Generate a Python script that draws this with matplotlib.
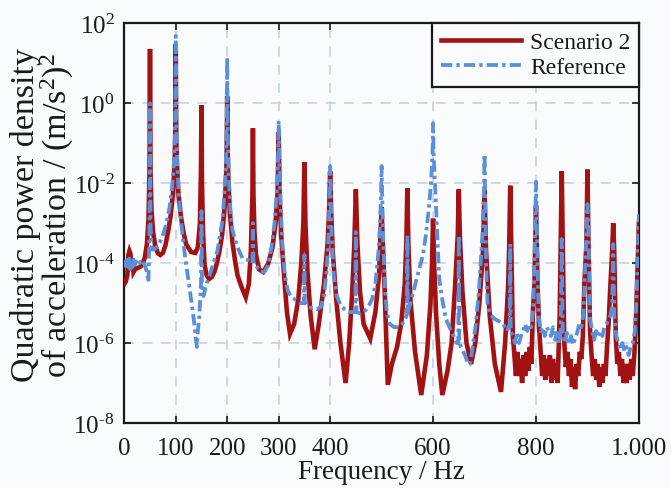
import matplotlib
matplotlib.use("Agg")
import matplotlib.pyplot as plt

plt.rcParams['font.family'] = ['Liberation Serif', 'DejaVu Serif']
plt.rcParams['mathtext.fontset'] = 'custom'
plt.rcParams['mathtext.rm'] = 'Liberation Serif'
plt.rcParams['mathtext.it'] = 'Liberation Serif:italic'
plt.rcParams['mathtext.bf'] = 'Liberation Serif:bold'

# ---------------- data: (frequency Hz, PSD) ----------------
s2_points = [
    (0, 3.0e-5), (3, 3.5e-5), (6, 5e-5), (8, 1.6e-4), (10, 2.0e-4), (12, 1.7e-4), (14, 7e-5),
    (16, 1.3e-4), (18, 6e-5), (21, 7e-5), (25, 7.5e-5), (30, 8e-5), (35, 9e-5), (40, 1.4e-4),
    (44, 3e-4), (47, 1.2e-3), (49, 2e-2), (50, 23), (51, 2e-2), (53, 2e-3), (56, 6e-4),
    (60, 2.8e-4), (65, 1.8e-4), (70, 1.6e-4), (75, 1.8e-4), (80, 2.8e-4), (85, 6e-4),
    (90, 1.5e-3), (95, 6e-3), (98, 4e-2), (99, 0.15), (100, 30), (101, 0.15), (102, 4e-2),
    (105, 6e-3), (110, 1.5e-3), (115, 6e-4), (120, 3e-4), (130, 1.9e-4), (138, 1.8e-4),
    (143, 2.5e-4), (147, 1e-3), (149, 2e-2), (150, 0.9), (151, 1e-2), (153, 6e-4), (156, 9e-5),
    (160, 5e-5), (165, 4e-5), (170, 4.5e-5), (175, 6e-5), (180, 1e-4), (185, 2e-4), (190, 5e-4),
    (195, 2.5e-3), (198, 1.5e-2), (199, 6e-2), (200, 1.5), (201, 6e-2), (202, 1.5e-2),
    (205, 2e-3), (210, 3.5e-4), (215, 1.2e-4), (220, 5e-5), (228, 2.5e-5), (236, 1.4e-5),
    (242, 3e-5), (246, 2e-4), (249, 5e-3), (250, 0.24), (251, 5e-3), (253, 6e-4), (256, 1.6e-4),
    (262, 7e-5), (270, 6e-5), (280, 1e-4), (288, 2.5e-4), (294, 1e-3), (298, 6e-3), (299, 3e-2),
    (300, 0.19), (301, 3e-2), (302, 4e-3), (305, 5e-4), (310, 6e-5), (316, 6e-6), (322, 1.7e-6),
    (330, 3e-6), (338, 1.2e-5), (344, 1e-4), (348, 1e-3), (350, 3.4e-2), (352, 1e-3),
    (356, 6e-5), (362, 5e-6), (370, 7e-7), (378, 3e-6), (388, 3e-5), (395, 3e-4), (398, 2e-3),
    (400, 2e-2), (402, 2e-3), (405, 2e-4), (412, 1.2e-5), (420, 1e-6), (430, 1e-7), (437, 1e-6),
    (443, 2e-5), (447, 3e-4), (450, 7e-3), (453, 3e-4), (458, 2e-5), (465, 3e-6), (478, 1.3e-6),
    (488, 6e-6), (495, 5e-5), (498, 5e-4), (500, 2.5e-3), (502, 4e-4), (506, 2e-5), (512, 9e-8),
    (520, 3e-7), (530, 8e-7), (538, 3e-6), (545, 3e-5), (548, 3e-4), (550, 7.6e-3), (552, 3e-4),
    (556, 1.2e-5), (565, 6e-7), (577, 5e-8), (588, 5e-7), (595, 1e-5), (598, 1e-4),
    (600, 1.3e-3), (602, 1e-4), (606, 5e-6), (612, 3e-7), (618, 5e-8), (628, 2e-7), (636, 1e-6),
    (643, 3e-5), (648, 5e-4), (650, 7e-3), (652, 5e-4), (657, 2e-5), (665, 1e-6), (674, 3e-7),
    (682, 1e-6), (690, 1e-5), (697, 2e-4), (700, 6.8e-3), (703, 2e-4), (710, 5e-6), (720, 3e-7),
    (732, 6e-8), (740, 1e-6), (746, 3e-5), (748, 3e-4), (750, 8.7e-3), (752, 3e-4),
    (755, 1.5e-6), (758, 5e-7), (761, 1.5e-7), (764, 6e-7), (767, 1.5e-7), (770, 4e-7),
    (773, 1e-7), (776, 5e-7), (779, 1.5e-7), (782, 6e-7), (785, 2e-7), (788, 8e-7), (791, 3e-7),
    (794, 6e-6), (797, 3e-5), (800, 2.8e-3), (803, 3e-5), (806, 2.5e-6), (809, 6e-7),
    (812, 1.5e-7), (815, 5e-7), (818, 1.2e-7), (821, 4e-7), (824, 1.5e-7), (827, 5e-7),
    (830, 1e-7), (833, 4e-7), (836, 1.2e-7), (839, 3e-7), (842, 1e-7), (846, 5e-6), (848, 3e-4),
    (850, 2e-2), (852, 3e-4), (855, 1e-6), (858, 2.5e-7), (861, 6e-7), (864, 1.5e-7),
    (867, 4e-7), (870, 8e-8), (873, 2.5e-7), (876, 7e-8), (879, 3e-7), (882, 1.5e-7),
    (885, 6e-7), (888, 4e-7), (891, 1.5e-6), (894, 3e-5), (898, 3e-4), (900, 2.2e-2),
    (902, 3e-4), (905, 2e-6), (908, 5e-7), (911, 1.5e-7), (914, 4e-7), (917, 1.2e-7),
    (920, 3e-7), (923, 8e-8), (926, 2.5e-7), (929, 1e-7), (932, 3e-7), (935, 1.5e-7),
    (938, 8e-7), (941, 3e-6), (944, 2e-5), (948, 2e-4), (950, 1e-3), (952, 2e-4), (955, 1.5e-6),
    (958, 3e-7), (961, 6e-7), (964, 1.5e-7), (967, 4e-7), (970, 1e-7), (973, 3e-7), (976, 1e-7),
    (979, 3e-7), (982, 1.2e-7), (985, 4e-7), (988, 1.5e-7), (991, 5e-7), (994, 3e-6),
    (997, 5e-5), (999, 3e-4), (1000, 1e-3),
]

ref_points = [
    (0, 8e-5), (2, 1.1e-4), (4, 7e-5), (6, 1.2e-4), (8, 8e-5), (10, 1.3e-4), (12, 7e-5),
    (14, 1.1e-4), (16, 8e-5), (18, 1.2e-4), (20, 9e-5), (23, 1.1e-4), (26, 9e-5), (29, 1e-4),
    (32, 1.1e-4), (35, 9e-5), (38, 1e-4), (41, 8e-5), (44, 6e-5), (47, 3.3e-5), (49, 1e-3),
    (50, 1.0), (51, 1e-3), (53, 2.2e-4), (58, 2.2e-4), (64, 2.6e-4), (70, 3.5e-4), (76, 5.5e-4),
    (82, 1e-3), (88, 2.5e-3), (93, 8e-3), (97, 4e-2), (99, 0.4), (100, 49), (101, 0.4),
    (103, 3e-2), (106, 5e-3), (110, 1.2e-3), (115, 3e-4), (120, 1e-4), (125, 3.5e-5),
    (130, 1.2e-5), (135, 4e-6), (139, 1.3e-6), (141, 8e-7), (143, 2e-6), (146, 5e-6),
    (149, 3e-5), (150, 2e-3), (151, 3e-5), (154, 1.5e-5), (158, 2.5e-5), (163, 4e-5),
    (168, 6e-5), (175, 1.2e-4), (181, 2e-4), (186, 5e-4), (190, 1e-3), (194, 4e-3), (197, 2e-2),
    (199, 0.2), (200, 14), (201, 0.2), (203, 1.5e-2), (206, 2.5e-3), (210, 7e-4), (215, 4e-4),
    (222, 2.2e-4), (230, 1.3e-4), (240, 1.2e-4), (246, 1.1e-4), (249, 1e-4), (250, 1e-3),
    (251, 1e-4), (258, 8e-5), (265, 6e-5), (272, 6e-5), (280, 9e-5), (286, 2.5e-4), (292, 1e-3),
    (296, 5e-3), (299, 0.05), (300, 0.36), (301, 0.05), (304, 3e-3), (307, 3e-4), (312, 5e-5),
    (318, 2e-5), (325, 1.4e-5), (333, 1.2e-5), (342, 1e-5), (349, 1e-5), (350, 1.6e-4),
    (351, 1e-5), (358, 8e-6), (366, 7.5e-6), (374, 7e-6), (382, 8e-6), (388, 1.5e-5),
    (393, 6e-5), (397, 5e-4), (399, 5e-3), (400, 2.7e-2), (401, 5e-3), (403, 5e-4), (407, 5e-5),
    (413, 1.5e-5), (420, 9e-6), (428, 7e-6), (436, 6e-6), (444, 6e-6), (449, 6e-6), (450, 6e-4),
    (451, 6e-6), (458, 5.5e-6), (466, 6e-6), (474, 8e-6), (482, 1.3e-5), (488, 3e-5),
    (494, 2e-4), (497, 1e-3), (499, 6e-3), (500, 2.7e-2), (501, 6e-3), (503, 5e-4), (506, 3e-5),
    (510, 6e-6), (516, 3e-6), (524, 2.5e-6), (532, 2.5e-6), (540, 3e-6), (546, 4e-6),
    (549, 5e-6), (550, 5e-4), (551, 6e-6), (556, 1e-5), (562, 2e-5), (568, 4e-5), (574, 8e-5),
    (580, 1.5e-4), (586, 5e-4), (592, 2.5e-3), (596, 1e-2), (599, 0.06), (600, 0.32),
    (601, 0.06), (604, 8e-3), (608, 5e-4), (612, 4e-5), (618, 1.2e-5), (625, 4e-6),
    (632, 2.5e-6), (640, 1.5e-6), (646, 1e-6), (649, 1e-6), (650, 5e-4), (651, 1e-6),
    (656, 7e-7), (662, 5e-7), (668, 3e-7), (672, 3e-7), (677, 8e-7), (683, 3e-6), (689, 2e-5),
    (694, 2e-4), (697, 1e-3), (699, 8e-3), (700, 5.4e-2), (701, 8e-3), (703, 1e-4), (706, 8e-6),
    (712, 5e-6), (720, 4e-6), (728, 3.5e-6), (736, 3e-6), (744, 2e-6), (749, 3e-6), (750, 3e-4),
    (751, 2e-6), (755, 1.5e-6), (759, 1e-6), (763, 1.8e-6), (767, 1e-6), (771, 1.5e-6),
    (775, 2e-6), (779, 3e-6), (783, 2e-6), (787, 3e-6), (791, 2.5e-6), (795, 8e-6), (798, 5e-4),
    (800, 1.1e-2), (802, 5e-4), (805, 5e-6), (809, 2e-6), (813, 2.5e-6), (817, 1.5e-6),
    (821, 2.5e-6), (825, 2e-6), (829, 1.5e-6), (833, 2.5e-6), (837, 1.2e-6), (841, 1.8e-6),
    (845, 1e-6), (848, 2e-6), (850, 4e-4), (852, 2e-6), (856, 1e-6), (860, 1.8e-6), (864, 1e-6),
    (868, 1.5e-6), (872, 9e-7), (876, 1.3e-6), (880, 1.8e-6), (884, 3e-6), (888, 2.5e-6),
    (892, 5e-6), (895, 5e-5), (898, 5e-4), (900, 3e-3), (902, 5e-4), (905, 4e-6), (909, 2e-6),
    (913, 1.2e-6), (917, 2e-6), (921, 1.5e-6), (925, 2e-6), (929, 1.5e-6), (933, 2.5e-6),
    (937, 3e-6), (941, 4e-6), (945, 5e-6), (948, 8e-6), (950, 3e-4), (952, 5e-6), (956, 1.5e-6),
    (960, 1e-6), (964, 7e-7), (968, 1e-6), (972, 6e-7), (976, 8e-7), (980, 5e-7), (984, 8e-7),
    (988, 1e-6), (992, 2e-6), (995, 1e-5), (998, 2e-4), (1000, 1.7e-3),
]

freq_s2 = [p[0] for p in s2_points]
psd_s2 = [p[1] for p in s2_points]
freq_ref = [p[0] for p in ref_points]
psd_ref = [p[1] for p in ref_points]

xtick_vals = [0, 100, 200, 300, 400, 600, 800, 1000]
xtick_labels = ['0', '100', '200', '300', '400', '600', '800', '1.000']
ytick_exps = [-8, -6, -4, -2, 0, 2]
series_names = ['Scenario 2', 'Reference']

# ---------------- figure ----------------
bg = '#fafbfd'
fig = plt.figure(figsize=(6.71, 4.89), dpi=100, facecolor=bg)
ax = fig.add_axes([0.1852, 0.133, 0.767, 0.817], facecolor=bg)

red = '#a31212'
blue = '#5b8fd9'
ax.plot(freq_s2, psd_s2, color=red, lw=3.3, solid_joinstyle='miter',
        label=series_names[0], zorder=3)
ax.plot(freq_ref, psd_ref, color=blue, lw=2.7, linestyle=(0, (3.0, 1.1, 0.9, 1.1)),
        label=series_names[1], zorder=4)

ax.set_yscale('log')
ax.set_xlim(0, 1000)
ax.set_ylim(1e-8, 1e2)

def exp_label(e):
    s = str(e).replace('-', '\u2010')
    return r'$10^{%s}$' % s

ax.set_xticks(xtick_vals)
ax.set_xticklabels(xtick_labels)
ax.set_yticks([10.0 ** e for e in ytick_exps])
ax.set_yticklabels([exp_label(e) for e in ytick_exps])
ax.minorticks_off()
ax.tick_params(axis='both', which='major', direction='in', top=True, right=True,
               length=5, width=1.2, labelsize=18, colors='#1a1a1a')
ax.tick_params(axis='y', pad=7)
ax.tick_params(axis='x', pad=10)

for s in ax.spines.values():
    s.set_linewidth(1.6)
    s.set_color('#1a1a1a')

ax.grid(True, which='major', color='#c5d3e0', linestyle=(0, (6, 5)), linewidth=1.2)
ax.set_axisbelow(True)

ax.set_xlabel('Frequency / Hz', fontsize=19.5, labelpad=0, color='#1a1a1a')
ax.set_ylabel('Quadratic power density\nof acceleration / (m/s$^2$)$^2$',
              fontsize=24.5, color='#1a1a1a', linespacing=0.95)
ax.yaxis.set_label_coords(-0.093, 0.523)

leg = ax.legend(loc='upper right', fontsize=17, frameon=True, fancybox=False,
                borderaxespad=0, handlelength=3.4, handletextpad=0.4,
                borderpad=0.35, labelspacing=0.15, framealpha=1)
leg.get_frame().set_edgecolor('#1a1a1a')
leg.get_frame().set_linewidth(1.6)
leg.get_frame().set_facecolor(bg)
for t in leg.get_texts():
    t.set_color('#1a1a1a')

fig.savefig('out.png', dpi=100, facecolor=bg)
